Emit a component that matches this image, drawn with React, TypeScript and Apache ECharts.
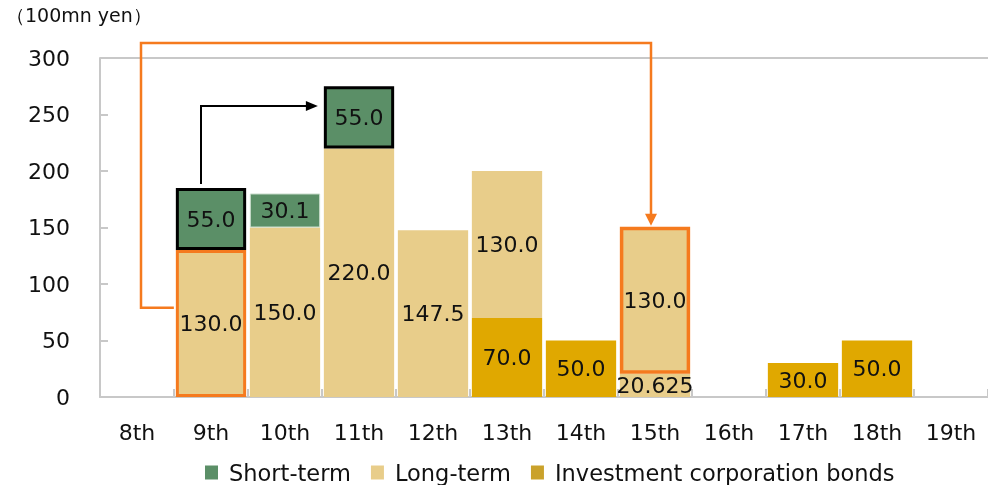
import React, { useEffect, useRef } from "react";
import * as echarts from "echarts";

const categories = ["8th", "9th", "10th", "11th", "12th", "13th", "14th", "15th", "16th", "17th", "18th", "19th"];
const icbValues: (number | null)[] = [null, null, null, null, null, 70, 50, null, null, 30, 50, null];
const longValues: (number | null)[] = [null, 130, 150, 220, 147.5, 130, null, 20.625, null, null, null, null];
const longRefiValues: (number | null)[] = [null, null, null, null, null, null, null, 130, null, null, null, null];
const shortValues: (number | null)[] = [null, 55, 30.1, 55, null, null, null, null, null, null, null, null];
const yTicks = [0, 50, 100, 150, 200, 250, 300];

const GREEN = "#5b8f67";
const TAN = "#e8cd8a";
const GOLD = "#e0a800";
const ORANGE = "#f57a1e";
const FONT = "DejaVu Sans";

const fmt = (p: any) => {
  const v = p.value as number;
  return Math.round(v * 10) === v * 10 ? v.toFixed(1) : String(v);
};

const labelCfg = {
  show: true,
  position: "inside" as const,
  color: "#111",
  fontSize: 22,
  fontFamily: FONT,
  formatter: fmt,
};

export default function App() {
  const ref = useRef<HTMLDivElement>(null);
  useEffect(() => {
    document.body.style.margin = "0";
    const chart = echarts.init(ref.current!, null, { renderer: "svg" });
    const longData = longValues.map((v, i) =>
      i === 1 && v != null
        ? { value: v, itemStyle: { borderColor: ORANGE, borderWidth: 3 } }
        : v
    );
    const shortData = shortValues.map((v, i) =>
      (i === 1 || i === 3) && v != null
        ? { value: v, itemStyle: { borderColor: "#000", borderWidth: 3 } }
        : v == null
        ? v
        : { value: v, itemStyle: { borderColor: "#c9dccb", borderWidth: 1 } }
    );
    chart.setOption({
      animation: false,
      textStyle: { fontFamily: FONT },
      grid: { left: 100, right: -5, top: 58, bottom: 88 },
      legend: {
        left: 200,
        top: 456,
        icon: "rect",
        itemWidth: 13,
        itemHeight: 14,
        itemGap: 20,
        textStyle: { fontSize: 22.5, color: "#111", fontFamily: FONT, padding: [0, 0, 0, 6] },
        data: [
          { name: "Short-term" },
          { name: "Long-term" },
          { name: "Investment corporation bonds", itemStyle: { color: "#caa22b" } },
        ],
      },
      xAxis: {
        type: "category",
        data: categories,
        boundaryGap: true,
        axisLine: { lineStyle: { color: "#c8c8c8", width: 2 } },
        axisTick: { show: true, inside: true, length: 8, lineStyle: { color: "#c8c8c8", width: 2 } },
        axisLabel: { color: "#111", fontSize: 22, fontFamily: FONT, margin: 24 },
      },
      yAxis: {
        type: "value",
        min: yTicks[0],
        max: yTicks[yTicks.length - 1],
        interval: 50,
        axisLine: { show: true, lineStyle: { color: "#c8c8c8", width: 2 } },
        axisTick: { show: true, inside: true, length: 8, lineStyle: { color: "#c8c8c8", width: 2 } },
        axisLabel: { color: "#111", fontSize: 22, fontFamily: FONT, margin: 30 },
        splitLine: {
          show: true,
          lineStyle: {
            color: yTicks.map((t, i) => (i === yTicks.length - 1 ? "#c8c8c8" : "rgba(0,0,0,0)")),
            width: 2,
          },
        },
      },
      series: [
        {
          name: "Investment corporation bonds",
          type: "bar",
          stack: "s",
          data: icbValues,
          barCategoryGap: "5%",
          itemStyle: { color: GOLD },
          label: labelCfg,
        },
        {
          name: "Long-term",
          type: "bar",
          stack: "s",
          data: longData,
          itemStyle: { color: TAN },
          label: labelCfg,
        },
        {
          name: "Long-term refinance",
          type: "bar",
          stack: "s",
          data: longRefiValues,
          itemStyle: { color: TAN, borderColor: ORANGE, borderWidth: 3.5 },
          label: labelCfg,
        },
        {
          name: "Short-term",
          type: "bar",
          stack: "s",
          data: shortData,
          itemStyle: { color: GREEN },
          label: labelCfg,
        },
      ],
    });

    const px = (cat: string, val: number) => chart.convertToPixel({ gridIndex: 0 }, [cat, val]) as number[];
    const c8 = px("8th", 0);
    const c9 = px("9th", 0);
    const c10 = px("10th", 0);
    const cw = c10[0] - c9[0];
    const bw = cw * 0.95;
    const c11 = px("11th", 0);
    const y79 = px("9th", 79)[1];
    const topY = px("9th", 300)[1] - 15;
    const c15top = px("15th", 150.625);
    const oX = c15top[0] - 4;
    const y185 = px("9th", 185)[1];
    const y257 = px("9th", 257.5)[1];
    const bX = c9[0] - 10;
    const tipX = c11[0] - bw / 2 - 6;

    chart.setOption({
      graphic: [
        {
          type: "text",
          left: 6,
          top: 5,
          style: { text: "（100mn yen）", fontSize: 19, fontFamily: FONT, fill: "#111" },
        },
        {
          type: "polyline",
          shape: {
            points: [
              [c9[0] - bw / 2 - 2, y79],
              [c8[0] + 4, y79],
              [c8[0] + 4, topY],
              [oX, topY],
              [oX, c15top[1] - 12],
            ],
          },
          style: { stroke: ORANGE, lineWidth: 2.5, fill: "none" },
          z: 100,
        },
        {
          type: "polygon",
          shape: {
            points: [
              [oX - 6, c15top[1] - 13],
              [oX + 6, c15top[1] - 13],
              [oX, c15top[1] - 1],
            ],
          },
          style: { fill: ORANGE },
          z: 100,
        },
        {
          type: "polyline",
          shape: {
            points: [
              [bX, y185 - 4],
              [bX, y257],
              [tipX - 11, y257],
            ],
          },
          style: { stroke: "#000", lineWidth: 2, fill: "none" },
          z: 100,
        },
        {
          type: "polygon",
          shape: {
            points: [
              [tipX - 12, y257 - 5],
              [tipX - 12, y257 + 5],
              [tipX, y257],
            ],
          },
          style: { fill: "#000" },
          z: 100,
        },
      ],
    });
    return () => chart.dispose();
  }, []);
  return <div ref={ref} style={{ position: "fixed", left: 0, top: 0, width: 988, height: 485 }} />;
}
